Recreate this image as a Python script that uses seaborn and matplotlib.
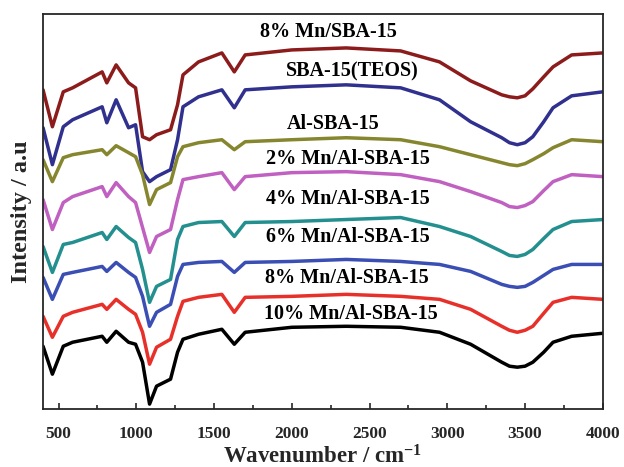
import numpy as np
import pandas as pd
import matplotlib
matplotlib.use("Agg")
import matplotlib.pyplot as plt
from matplotlib.ticker import MultipleLocator
import seaborn as sns

# wavenumber positions (cm^-1) at which values were read
wavenumber = [400, 460, 530, 590, 780, 810, 870, 950, 995, 1040, 1085, 1130, 1220, 1265, 1300,
              1400, 1550, 1630, 1700, 2000, 2350, 2700, 2950, 3150, 3350, 3400, 3450, 3500,
              3550, 3620, 3680, 3800, 4000]

mn8_sba = [320, 283, 318, 322, 338, 327, 345, 327, 322, 273, 270, 275, 280, 305, 335,
           348, 357, 338, 355, 360, 362, 359, 348, 329, 315, 313, 312, 314,
           321, 333, 343, 355, 357]
sba_teos = [282, 245, 283, 290, 303, 287, 310, 282, 285, 238, 228, 233, 240, 270, 303,
            313, 320, 302, 320, 323, 325, 322, 310, 288, 272, 267, 265, 267,
            273, 288, 302, 314, 318]
al_sba = [250, 228, 252, 255, 260, 255, 264, 257, 253, 235, 205, 220, 227, 253, 263,
          267, 270, 260, 268, 270, 272, 270, 263, 255, 247, 245, 244, 246,
          250, 256, 262, 270, 268]
mn2_al = [210, 180, 207, 213, 223, 213, 227, 213, 207, 182, 157, 173, 180, 210, 230,
          233, 237, 220, 233, 237, 238, 235, 228, 218, 207, 203, 202, 204,
          208, 219, 228, 235, 233]
mn4_al = [163, 137, 165, 167, 177, 170, 183, 172, 167, 140, 107, 123, 130, 170, 183,
          187, 188, 173, 187, 188, 190, 192, 183, 173, 158, 154, 153, 155,
          160, 171, 180, 188, 190]
mn6_al = [132, 110, 135, 137, 143, 138, 147, 137, 132, 113, 83, 97, 105, 133, 145,
          147, 148, 137, 147, 148, 150, 148, 145, 138, 125, 123, 122, 123,
          127, 134, 140, 145, 145]
mn8_al = [93, 72, 93, 97, 105, 100, 110, 100, 95, 77, 45, 62, 70, 93, 108,
          112, 115, 97, 112, 113, 115, 113, 110, 100, 83, 79, 77, 79,
          83, 96, 107, 112, 110]
mn10_al = [63, 35, 63, 67, 73, 67, 78, 67, 65, 47, 5, 23, 30, 57, 70,
           75, 80, 65, 77, 82, 83, 82, 77, 65, 47, 43, 42, 43,
           47, 57, 67, 73, 76]

labels = ["8% Mn/SBA-15", "SBA-15(TEOS)", "Al-SBA-15", "2% Mn/Al-SBA-15",
          "4% Mn/Al-SBA-15", "6% Mn/Al-SBA-15", "8% Mn/Al-SBA-15", "10% Mn/Al-SBA-15"]
series = [mn8_sba, sba_teos, al_sba, mn2_al, mn4_al, mn6_al, mn8_al, mn10_al]
colors = ["#8c1c1c", "#30308e", "#86862f", "#c060c0", "#23908f", "#3a4eb4", "#e8302a", "#000000"]
label_x = [2235, 2390, 2268, 2363, 2363, 2363, 2355, 2383]
label_y = [378, 338, 286, 251, 211, 172, 131, 95]

xticks = [500, 1000, 1500, 2000, 2500, 3000, 3500, 4000]

rows = []
for name, vals in zip(labels, series):
    for w, v in zip(wavenumber, vals):
        rows.append({"Wavenumber": w, "Intensity": v, "Sample": name})
df = pd.DataFrame(rows)

sns.set_theme(style="ticks")
plt.rcParams["font.family"] = ["Liberation Serif", "DejaVu Serif"]
plt.rcParams["font.weight"] = "bold"
plt.rcParams["mathtext.fontset"] = "custom"
plt.rcParams["mathtext.rm"] = "Liberation Serif:bold"
plt.rcParams["mathtext.bf"] = "Liberation Serif:bold"
plt.rcParams["mathtext.it"] = "Liberation Serif:bold"

fig = plt.figure(figsize=(6.24, 4.67), dpi=100)
ax = fig.add_axes([0.069, 0.124, 0.897, 0.846])

sns.lineplot(data=df, x="Wavenumber", y="Intensity", hue="Sample",
             hue_order=labels, palette=colors, sort=False, estimator=None,
             linewidth=2.5, legend=False, ax=ax)

for t, x, y in zip(labels, label_x, label_y):
    ax.text(x, y, t, ha="center", va="center", fontsize=14.5, fontweight="bold", color="black")

ax.set_xlim(400, 4000)
ax.set_ylim(0, 396)
ax.set_xticks(xticks)
ax.xaxis.set_minor_locator(MultipleLocator(250))
ax.set_yticks([])
ax.tick_params(axis="x", which="major", direction="in", length=4.5, width=1.2,
               labelsize=12.5, pad=12)
ax.tick_params(axis="x", which="minor", direction="in", length=3, width=1.2)
for lab in ax.get_xticklabels():
    lab.set_fontweight("bold")
for s in ax.spines.values():
    s.set_linewidth(1.3)
    s.set_visible(True)

ax.set_xlabel("Wavenumber / cm$^{-1}$", fontsize=16.5, fontweight="bold", labelpad=2.5)
ax.set_ylabel("Intensity / a.u", fontsize=17.5, fontweight="bold", labelpad=8)

fig.savefig("out.png", dpi=100)
